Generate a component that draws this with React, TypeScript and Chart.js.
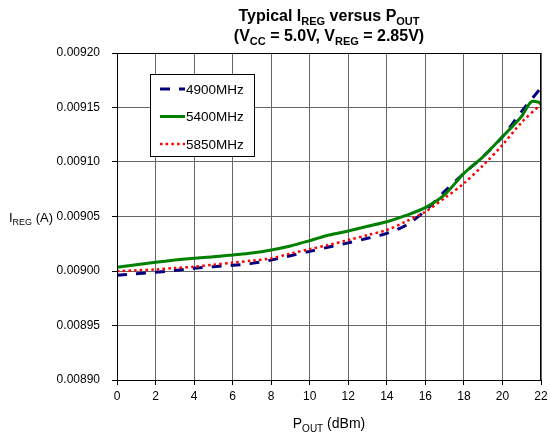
import React, { useEffect, useRef } from "react";
import { Chart, registerables } from "chart.js";

Chart.register(...registerables);

const xValues4900 = [0, 1, 2, 3, 4, 5, 6, 7, 8, 9, 10, 11, 12, 13, 14, 15, 16, 17, 18, 19, 20, 21, 21.9];
const iReg4900 = [0.0089962, 0.0089975, 0.0089988, 0.0090005, 0.0090025, 0.009004, 0.0090052, 0.009007, 0.00901, 0.009014, 0.009018, 0.009022, 0.0090258, 0.00903, 0.0090345, 0.009042, 0.0090553, 0.009073, 0.0090896, 0.009105, 0.0091232, 0.0091465, 0.009166];

const xValues5400 = [0, 1, 2, 3, 4, 5, 6, 7, 8, 9, 10, 11, 12, 13, 14, 15, 16, 17, 18, 19, 20, 21, 21.5, 22];
const iReg5400 = [0.0090034, 0.0090058, 0.009008, 0.00901, 0.0090117, 0.009013, 0.0090147, 0.0090165, 0.0090193, 0.009023, 0.0090278, 0.009033, 0.0090367, 0.009041, 0.0090452, 0.009051, 0.0090581, 0.00907, 0.0090896, 0.009105, 0.0091232, 0.009142, 0.0091553, 0.0091544];

const xValues5850 = [0, 1, 2, 3, 4, 5, 6, 7, 8, 9, 10, 11, 12, 13, 14, 15, 16, 17, 18, 19, 20, 21, 22];
const iReg5850 = [0.0089998, 0.0090006, 0.0090014, 0.0090027, 0.009004, 0.0090058, 0.0090077, 0.0090095, 0.0090116, 0.009016, 0.00902, 0.009024, 0.0090284, 0.009033, 0.0090376, 0.0090455, 0.0090544, 0.009067, 0.0090804, 0.009097, 0.0091156, 0.0091365, 0.009153];

const seriesLabels = ["4900MHz", "5400MHz", "5850MHz"];
const titleLine1: [string, boolean][] = [["Typical I", false], ["REG", true], [" versus P", false], ["OUT", true]];
const titleLine2: [string, boolean][] = [["(V", false], ["CC", true], [" = 5.0V, V", false], ["REG", true], [" = 2.85V)", false]];
const yTitle: [string, boolean][] = [["I", false], ["REG", true], [" (A)", false]];
const xTitle: [string, boolean][] = [["P", false], ["OUT", true], [" (dBm)", false]];

const FONT = '"Liberation Sans", Arial, sans-serif';

function toPoints(xs: number[], ys: number[]) {
  return xs.map((x, i) => ({ x, y: ys[i] }));
}

function drawRich(
  ctx: CanvasRenderingContext2D,
  parts: [string, boolean][],
  x: number,
  y: number,
  size: number,
  bold: boolean,
  align: "center" | "left"
) {
  const w = bold ? "bold " : "";
  const subSize = Math.round(size * 0.7);
  let total = 0;
  for (const [t, sub] of parts) {
    ctx.font = `${w}${sub ? subSize : size}px ${FONT}`;
    total += ctx.measureText(t).width;
  }
  let cx = align === "center" ? x - total / 2 : x;
  ctx.textBaseline = "alphabetic";
  ctx.textAlign = "left";
  ctx.fillStyle = "#000";
  for (const [t, sub] of parts) {
    ctx.font = `${w}${sub ? subSize : size}px ${FONT}`;
    ctx.fillText(t, cx, sub ? y + size * 0.25 : y);
    cx += ctx.measureText(t).width;
  }
}

const decorPlugin = {
  id: "decor",
  afterDraw(chart: any) {
    const ctx: CanvasRenderingContext2D = chart.ctx;
    const a = chart.chartArea;
    ctx.save();
    ctx.strokeStyle = "#000";
    ctx.lineWidth = 1;
    ctx.strokeRect(a.left + 0.5, a.top + 0.5, a.right - a.left - 1, a.bottom - a.top);
    const cxm = (a.left + a.right) / 2;
    drawRich(ctx, titleLine1, cxm, 21, 16, true, "center");
    drawRich(ctx, titleLine2, cxm, 41, 16, true, "center");
    drawRich(ctx, yTitle, 9, (a.top + a.bottom) / 2 + 5, 13, false, "left");
    drawRich(ctx, xTitle, cxm, 428, 14, false, "center");

    const lx = 150, ly = 74, lw = 104, lh = 82;
    ctx.fillStyle = "#fff";
    ctx.fillRect(lx, ly, lw, lh);
    ctx.strokeStyle = "#000";
    ctx.lineWidth = 1;
    ctx.strokeRect(lx + 0.5, ly + 0.5, lw, lh);
    const dsets = chart.data.datasets;
    for (let i = 0; i < dsets.length; i++) {
      const ds = dsets[i];
      const yy = 89 + i * 27.5;
      ctx.beginPath();
      ctx.strokeStyle = ds.borderColor;
      ctx.lineWidth = ds.borderWidth;
      ctx.setLineDash(ds.borderDash || []);
      ctx.moveTo(160, yy);
      ctx.lineTo(185, yy);
      ctx.stroke();
      ctx.setLineDash([]);
      ctx.fillStyle = "#000";
      ctx.font = `13.5px ${FONT}`;
      ctx.textAlign = "left";
      ctx.textBaseline = "middle";
      ctx.fillText(ds.label, 186, yy + 1);
    }
    ctx.restore();
  },
};

export default function App() {
  const ref = useRef<HTMLCanvasElement | null>(null);
  useEffect(() => {
    if (!ref.current) return;
    const chart = new Chart(ref.current, {
      type: "line",
      data: {
        datasets: [
          {
            label: seriesLabels[0],
            data: toPoints(xValues4900, iReg4900),
            borderColor: "#000080",
            borderWidth: 3,
            borderDash: [10, 9],
            pointRadius: 0,
            tension: 0.3,
            order: 2,
          },
          {
            label: seriesLabels[1],
            data: toPoints(xValues5400, iReg5400),
            borderColor: "#008000",
            borderWidth: 3,
            pointRadius: 0,
            tension: 0.3,
            order: 0,
          },
          {
            label: seriesLabels[2],
            data: toPoints(xValues5850, iReg5850),
            borderColor: "#ff0000",
            borderWidth: 2.5,
            borderDash: [2.5, 3.2],
            pointRadius: 0,
            tension: 0.3,
            order: 1,
          },
        ] as any,
      },
      options: {
        animation: false,
        responsive: false,
        maintainAspectRatio: false,
        layout: { padding: { top: 53, right: 9, left: 0, bottom: 0 } },
        plugins: {
          legend: { display: false },
          title: { display: false },
          tooltip: { enabled: false },
        },
        scales: {
          x: {
            type: "linear",
            min: 0,
            max: 22,
            afterFit: (s: any) => {
              s.height = 57;
              s.paddingRight = 0;
            },
            ticks: {
              stepSize: 2,
              color: "#000",
              padding: 4,
              maxRotation: 0,
              font: { family: FONT, size: 12 },
            },
            grid: { color: "#666", lineWidth: 1, tickLength: 5, tickColor: "#000" },
            border: { color: "#000" },
          },
          y: {
            type: "linear",
            min: 0.0089,
            max: 0.0092,
            afterFit: (s: any) => {
              s.width = 117;
            },
            ticks: {
              stepSize: 0.00005,
              color: "#000",
              padding: 12,
              font: { family: FONT, size: 12 },
              callback: (v: any) => Number(v).toFixed(5),
            },
            grid: { color: "#666", lineWidth: 1, tickLength: 5, tickColor: "#000" },
            border: { color: "#000" },
          },
        },
      },
      plugins: [decorPlugin],
    });
    return () => chart.destroy();
  }, []);
  return (
    <div style={{ position: "absolute", left: 0, top: 0, width: 550, height: 437, background: "#fff" }}>
      <canvas ref={ref} width={550} height={437} style={{ display: "block" }} />
    </div>
  );
}
